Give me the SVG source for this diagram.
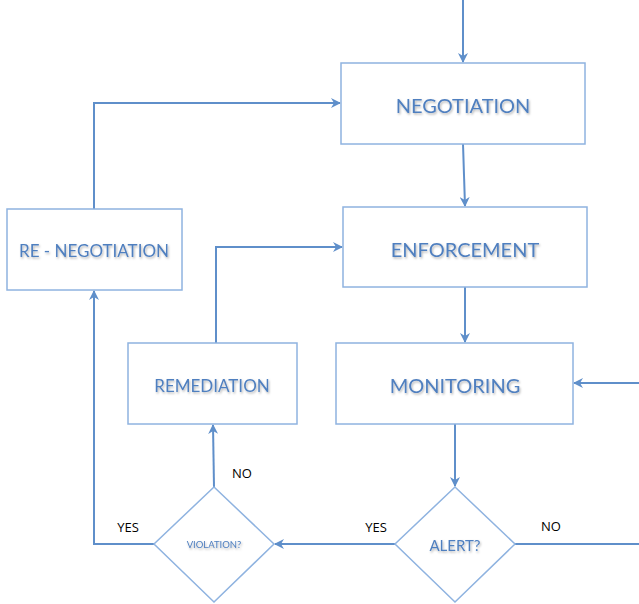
<svg xmlns="http://www.w3.org/2000/svg" width="639" height="604" viewBox="0 0 639 604">
<style>
.box{fill:#fff;stroke:#8fb3e0;stroke-width:1.5}
.lbl{font-family:Lato,"Liberation Sans",sans-serif;fill:#4f7fbf;text-anchor:middle;filter:url(#sh)}
.edge{fill:none;stroke:#5f8fca;stroke-width:2;marker-end:url(#ah)}
.line{fill:none;stroke:#5f8fca;stroke-width:2}
.yn{font-family:"Open Sans","Liberation Sans",sans-serif;font-size:13px;fill:#000;text-anchor:middle}
</style>
<defs>
<filter id="sh" x="-10%" y="-30%" width="120%" height="160%"><feDropShadow dx="1" dy="1.5" stdDeviation="1" flood-color="#000" flood-opacity="0.3"/></filter>
<marker id="ah" viewBox="0 0 10 10" refX="9" refY="5" markerWidth="5" markerHeight="5" orient="auto" markerUnits="strokeWidth"><path d="M0,0 L10,5 L0,10 L3,5 Z" fill="#5f8fca"/></marker>
</defs>
<g id="connectors">
<path class="edge" d="M463,0 V62"/>
<path class="edge" d="M463,144 L465,206"/>
<path class="edge" d="M465,287 V342"/>
<path class="edge" d="M455,424 V486"/>
<path class="edge" d="M395,544 H275"/>
<path class="edge" d="M154,544 H94 V291"/>
<path class="edge" d="M94,209 V103 H340"/>
<path class="edge" d="M214,487 L213,425"/>
<path class="edge" d="M216,343 V247 H342"/>
<path class="line" d="M515,544 H639"/>
<path class="edge" d="M639,383 H574"/>
</g>
<g id="negotiation"><rect class="box" x="341" y="63" width="244" height="81"/><text class="lbl" x="463" y="113" font-size="20">NEGOTIATION</text></g>
<g id="enforcement"><rect class="box" x="343" y="207" width="244" height="80"/><text class="lbl" x="465" y="257" font-size="20">ENFORCEMENT</text></g>
<g id="renegotiation"><rect class="box" x="7" y="209" width="175" height="81"/><text class="lbl" x="94" y="257" font-size="17">RE - NEGOTIATION</text></g>
<g id="remediation"><rect class="box" x="128" y="343" width="169" height="81"/><text class="lbl" x="212" y="392" font-size="17">REMEDIATION</text></g>
<g id="monitoring"><rect class="box" x="336" y="343" width="237" height="81"/><text class="lbl" x="455" y="393" font-size="20">MONITORING</text></g>
<g id="alert"><polygon class="box" points="455,487 515,544 455,602 395,544"/><text class="lbl" x="455" y="551" font-size="15">ALERT?</text></g>
<g id="violation"><polygon class="box" points="214,487 274,544 214,602 154,544"/><text class="lbl" x="214" y="548" font-size="9.5">VIOLATION?</text></g>
<g id="labels">
<text class="yn" x="242" y="478">NO</text>
<text class="yn" x="128" y="532">YES</text>
<text class="yn" x="376" y="532">YES</text>
<text class="yn" x="551" y="531">NO</text>
</g>
</svg>
